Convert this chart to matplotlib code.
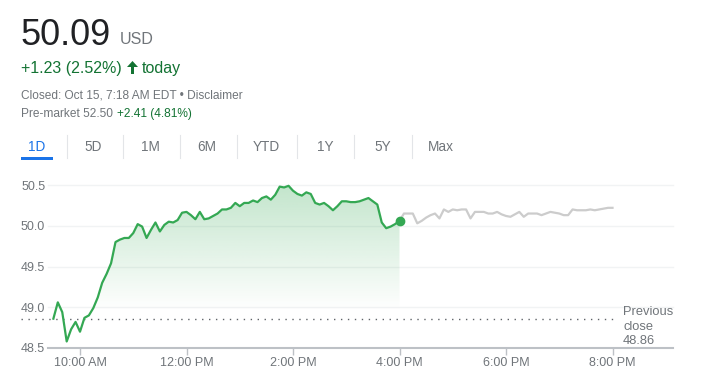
import numpy as np
import matplotlib
matplotlib.use("Agg")
import matplotlib.pyplot as plt
from matplotlib.lines import Line2D
from matplotlib.patches import Rectangle, Polygon

plt.rcParams['font.family'] = ['Liberation Sans', 'DejaVu Sans']

# regular session, 5 minute bars from 9:30 AM to 4:00 PM
day_prices = [48.86, 49.06, 48.94, 48.58, 48.73, 48.82, 48.70, 48.87, 48.90, 48.99,
              49.12, 49.30, 49.41, 49.54, 49.80, 49.83, 49.85, 49.85, 49.91, 50.02,
              49.99, 49.85, 49.95, 50.04, 49.93, 50.01, 50.05, 50.04, 50.07, 50.16,
              50.17, 50.13, 50.08, 50.17, 50.08, 50.09, 50.12, 50.15, 50.20, 50.20,
              50.22, 50.28, 50.24, 50.28, 50.28, 50.31, 50.29, 50.34, 50.36, 50.32,
              50.38, 50.48, 50.47, 50.49, 50.43, 50.39, 50.37, 50.41, 50.39, 50.28,
              50.26, 50.28, 50.24, 50.19, 50.24, 50.30, 50.30, 50.29, 50.29, 50.30,
              50.32, 50.34, 50.30, 50.26, 50.04, 49.97, 49.99, 50.02, 50.06]
# after hours, 5 minute bars from 4:00 PM to 8:00 PM
after_prices = [50.06, 50.15, 50.15, 50.15, 50.03, 50.06, 50.10, 50.13, 50.15, 50.09,
                50.20, 50.17, 50.20, 50.19, 50.20, 50.20, 50.09, 50.17, 50.17, 50.17,
                50.15, 50.15, 50.17, 50.14, 50.12, 50.11, 50.14, 50.17, 50.11, 50.15,
                50.15, 50.15, 50.13, 50.15, 50.17, 50.16, 50.15, 50.13, 50.13, 50.20,
                50.19, 50.19, 50.19, 50.20, 50.19, 50.20, 50.21, 50.22, 50.22]
prev_close = 48.86

day_hours = 9.5 + np.arange(len(day_prices)) * 5 / 60
after_hours = 16 + np.arange(len(after_prices)) * 5 / 60

xtick_pos = [10, 12, 14, 16, 18, 20]
xtick_labels = ["10:00 AM", "12:00 PM", "2:00 PM", "4:00 PM", "6:00 PM", "8:00 PM"]
ytick_pos = [48.5, 49.0, 49.5, 50.0, 50.5]
tabs = ["1D", "5D", "1M", "6M", "YTD", "1Y", "5Y", "Max"]

GREEN = '#34a853'
DARK_GREEN = '#137333'
GREY_TEXT = '#70757a'
BLUE = '#1a73e8'

W, H = 720, 381
fig = plt.figure(figsize=(W / 100, H / 100), dpi=100)


def fx(x):
    return x / W


def fy(y):
    return 1 - y / H


# header
fig.text(fx(20), fy(45), "50.09", fontsize=26, color='#202124', va='baseline')
fig.text(fx(120), fy(44), "USD", fontsize=11.5, color=GREY_TEXT, va='baseline')
fig.text(fx(21), fy(73), "+1.23 (2.52%)", fontsize=11.5, color=DARK_GREEN, va='baseline')
# up arrow icon
arrow_px = [(131, 74), (131, 67), (127, 67), (132.5, 61), (138, 67), (134, 67), (134, 74)]
fig.add_artist(Polygon([(fx(x), fy(y)) for x, y in arrow_px], closed=True,
                       color=DARK_GREEN, lw=0))
fig.text(fx(142), fy(73), "today", fontsize=11.5, color=DARK_GREEN, va='baseline')
fig.text(fx(21), fy(99), "Closed: Oct 15, 7:18 AM EDT \u2022 Disclaimer", fontsize=8.6,
         color=GREY_TEXT, va='baseline')
fig.text(fx(21), fy(117), "Pre-market 52.50", fontsize=8.6, color=GREY_TEXT, va='baseline')
fig.text(fx(117), fy(117), "+2.41 (4.81%)", fontsize=8.6, color=DARK_GREEN, va='baseline')

# range tabs
tab_x = [37, 93, 150, 207, 266, 325, 383, 441]
sep_x = [67, 123, 180, 237, 297, 354, 412]
for name, x in zip(tabs, tab_x):
    fig.text(fx(x), fy(147), name, fontsize=9.8, ha='center', va='center',
             color=BLUE if name == "1D" else GREY_TEXT)
for x in sep_x:
    fig.add_artist(Line2D([fx(x), fx(x)], [fy(135), fy(158)], color='#e3e5e8', lw=0.8))
fig.add_artist(Rectangle((fx(21), fy(160)), fx(32), 3 / H, color=BLUE, lw=0))

# chart
ax = fig.add_axes([fx(48), fy(348), fx(625), 163 / H])
for y in ytick_pos[1:]:
    ax.axhline(y, color='#f1f3f4', lw=1, zorder=0, clip_on=False)

ax.plot(after_hours, after_prices, color='#cccccc', lw=1.6, zorder=2)
ax.plot(day_hours, day_prices, color=GREEN, lw=1.6, zorder=3, clip_on=False)
ax.plot(day_hours[-1], day_prices[-1], 'o', color=GREEN, ms=6, zorder=4)

# gradient under the session line
base = 48.95
poly = ax.fill_between(day_hours, day_prices, base, color='none', lw=0)
grad = np.zeros((256, 1, 4))
grad[..., 0], grad[..., 1], grad[..., 2] = 52 / 255, 168 / 255, 83 / 255
grad[..., 3] = np.linspace(0.3, 0, 256).reshape(-1, 1)
img = ax.imshow(grad, extent=[day_hours[0], day_hours[-1], base, 50.5],
                aspect='auto', origin='upper', zorder=1)
img.set_clip_path(poly.get_paths()[0], transform=ax.transData)

# previous close
ax.plot([8.89, 20.085], [prev_close, prev_close], ls=(0, (1, 4)), color='#5f6368',
        lw=1, clip_on=False, zorder=2)
ax.text(20.2, 48.515, "Previous\nclose\n%.2f" % prev_close, fontsize=9.3, color=GREY_TEXT,
        ha='left', va='bottom', linespacing=1.25)

ax.set_xlim(9.399, 21.136)
ax.set_ylim(48.5, 50.5)
ax.set_xticks(xtick_pos)
ax.set_xticklabels(xtick_labels)
ax.set_yticks(ytick_pos)
ax.set_yticklabels(["%.1f" % v for v in ytick_pos])
ax.tick_params(axis='x', length=5, width=1, color='#bdc1c6', labelcolor=GREY_TEXT,
               labelsize=9, pad=1.5)
ax.tick_params(axis='y', length=0, labelcolor=GREY_TEXT, labelsize=9, pad=2)
for s in ['top', 'right', 'left']:
    ax.spines[s].set_visible(False)
ax.spines['bottom'].set_color('#bdc1c6')
ax.spines['bottom'].set_linewidth(1.5)
ax.patch.set_alpha(0)

fig.savefig("out.png", dpi=100)
